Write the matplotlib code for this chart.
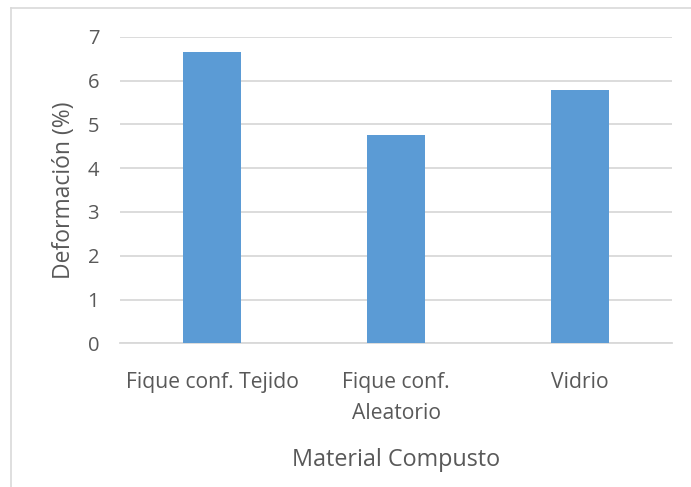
import matplotlib
matplotlib.use("Agg")
import matplotlib.pyplot as plt
from matplotlib.lines import Line2D

categories = ["Fique conf. Tejido", "Fique conf.\nAleatorio", "Vidrio"]
deformacion = [6.64, 4.76, 5.78]
y_ticks = [0, 1, 2, 3, 4, 5, 6, 7]

text_color = "#595959"
bar_color = "#5B9BD5"
grid_color = "#D9D9D9"

plt.rcParams["font.family"] = ["Open Sans", "DejaVu Sans"]

fig = plt.figure(figsize=(6.91, 4.87), dpi=100)
ax = fig.add_axes([120 / 691, 1 - 343.3 / 487, 552 / 691, (343.3 - 36.7) / 487])

x = range(len(categories))
ax.bar(x, deformacion, width=0.3125, color=bar_color, zorder=3)

ax.set_xlim(-0.5, len(categories) - 0.5)
ax.set_ylim(0, 7)
ax.set_yticks(y_ticks)
ax.set_xticks(list(x))
ax.set_xticklabels(categories, fontsize=15.2, color=text_color, linespacing=1.6)
ax.tick_params(axis="y", labelsize=14.5, labelcolor=text_color, length=0, pad=15)
ax.tick_params(axis="x", length=0, pad=21)

ax.grid(axis="y", color=grid_color, linewidth=1.3, zorder=0)
for side in ["top", "right", "left"]:
    ax.spines[side].set_visible(False)
ax.spines["bottom"].set_color(grid_color)
ax.spines["bottom"].set_linewidth(1.3)

ax.set_xlabel("Material Compusto", fontsize=16.8, color=text_color, labelpad=17)
ax.set_ylabel("Deformación (%)", fontsize=16.5, color=text_color, labelpad=8)

# light chart frame (left and top edges)
fig.add_artist(Line2D([11.3 / 691, 11.3 / 691], [0, 1 - 7.5 / 487],
                      transform=fig.transFigure, color=grid_color, linewidth=1.2))
fig.add_artist(Line2D([11.3 / 691, 1], [1 - 7.5 / 487, 1 - 7.5 / 487],
                      transform=fig.transFigure, color=grid_color, linewidth=1.2))

fig.savefig("out.png", dpi=100, facecolor="white")
